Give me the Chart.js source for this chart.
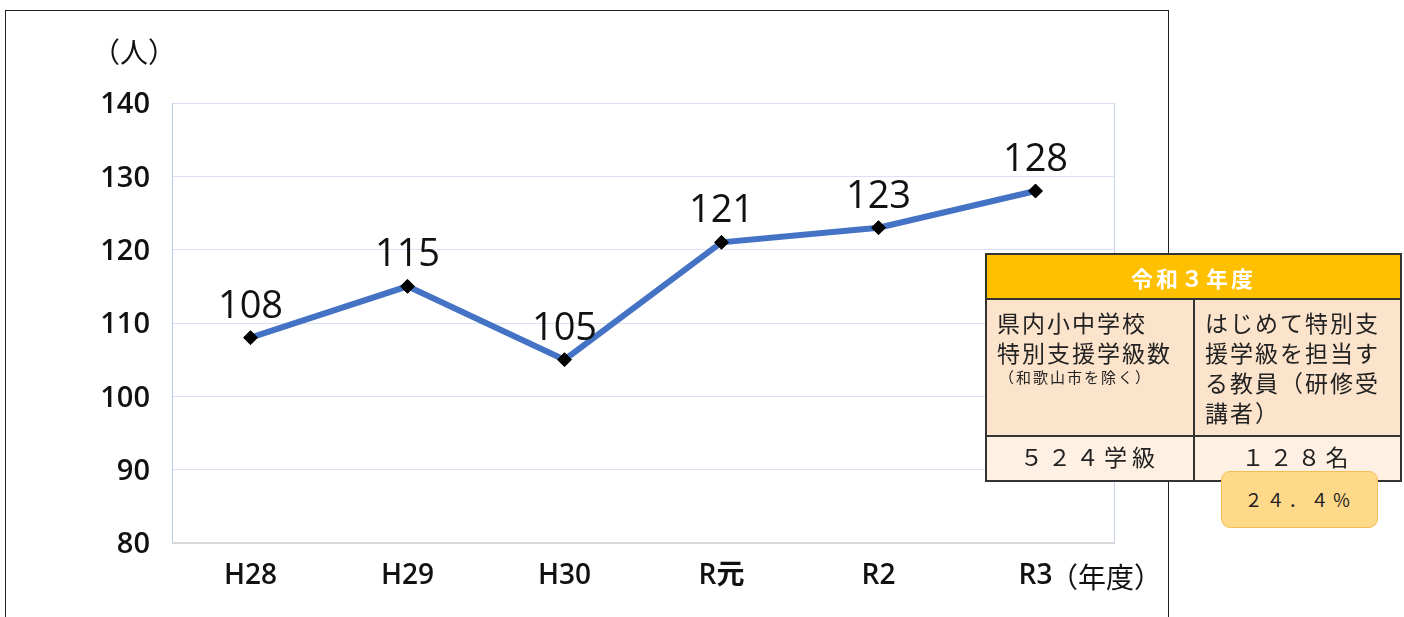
<!DOCTYPE html>
<html lang="ja">
<head>
<meta charset="utf-8">
<script src="https://cdn.jsdelivr.net/npm/chart.js@4"></script>
<style>
  html, body { margin: 0; padding: 0; background: #fff; }
  body { width: 1404px; height: 617px; position: relative; overflow: hidden; font-family: "Noto Sans CJK JP", sans-serif; }
  #frame { position: absolute; left: 5px; top: 10px; width: 1164px; height: 700px; border: 1px solid #222; box-sizing: border-box; }
  #chart { position: absolute; left: 0; top: 0; }
  .lbl { position: absolute; color: #111; font-size: 28px; line-height: 1; white-space: nowrap; }
  #info { position: absolute; left: 985px; top: 253px; width: 417px; border-collapse: collapse; table-layout: fixed; font-size: 23px; letter-spacing: 2px; color: #222; }
  #info td { border: 2px solid #333; padding: 0; }
  #info .head { background: #FFC000; color: #fff; font-weight: bold; font-size: 22px; letter-spacing: 3px; text-align: center; height: 43px; }
  #info .desc { background: #FCE4CC; vertical-align: top; line-height: 30px; padding: 7px 4px 0 10px; height: 128px; }
  #info .desc small { display: block; font-size: 15px; line-height: 20px; padding-left: 2px; letter-spacing: 2px; }
  #info .val { background: #FEF1E4; text-align: center; height: 43px; letter-spacing: 5px; line-height: 38px; vertical-align: top; }
  #badge { position: absolute; left: 1221px; top: 471px; width: 157px; height: 57px; box-sizing: border-box; border: 1px solid #F2BE55; border-radius: 9px; background: #FFD98A; font-size: 18px; color: #222; text-align: center; line-height: 55px; letter-spacing: 4px; }
</style>
</head>
<body>
<div id="frame"></div>
<canvas id="chart" width="1404" height="617"></canvas>
<div class="lbl" style="left:92px; top:37px;">（人）</div>
<div class="lbl" style="left:1050px; top:562px;">（年度）</div>
<table id="info">
  <col style="width:208px"><col>
  <tr><td class="head" colspan="2">令和３年度</td></tr>
  <tr>
    <td class="desc">県内小中学校<br>特別支援学級数<small>（和歌山市を除く）</small></td>
    <td class="desc">はじめて特別支援学級を担当する教員（研修受講者）</td>
  </tr>
  <tr><td class="val">５２４学級</td><td class="val">１２８名</td></tr>
</table>
<div id="badge">２４．４％</div>
<script>
const years = ['H28', 'H29', 'H30', 'R元', 'R2', 'R3'];
const teachers = [108, 115, 105, 121, 123, 128];
const yTicks = [80, 90, 100, 110, 120, 130, 140];

const FONT = '"Open Sans", "Noto Sans CJK JP", sans-serif';

// light right edge and grey base line of the plot area
const areaBox = {
  id: 'areaBox',
  beforeDatasetsDraw(chart) {
    const { ctx, chartArea: a } = chart;
    ctx.save();
    ctx.lineWidth = 1;
    ctx.strokeStyle = '#C5D3EC';
    ctx.beginPath();
    ctx.moveTo(a.right + 0.5, a.top);
    ctx.lineTo(a.right + 0.5, a.bottom);
    ctx.stroke();
    ctx.strokeStyle = '#D9D9D9';
    ctx.lineWidth = 2;
    ctx.beginPath();
    ctx.moveTo(a.left, a.bottom);
    ctx.lineTo(a.right + 1, a.bottom);
    ctx.stroke();
    ctx.restore();
  }
};

// value labels above each point
const valueLabels = {
  id: 'valueLabels',
  afterDatasetsDraw(chart) {
    const { ctx } = chart;
    const meta = chart.getDatasetMeta(0);
    ctx.save();
    ctx.font = '38px ' + FONT;
    ctx.fillStyle = '#111';
    ctx.textAlign = 'center';
    ctx.textBaseline = 'alphabetic';
    meta.data.forEach((pt, i) => {
      ctx.fillText(String(teachers[i]), pt.x, pt.y - 20);
    });
    ctx.restore();
  }
};

new Chart(document.getElementById('chart'), {
  type: 'line',
  data: {
    labels: years,
    datasets: [{
      data: teachers,
      borderColor: '#4472C4',
      borderWidth: 6,
      tension: 0,
      pointStyle: 'rectRot',
      pointRadius: 7,
      pointBackgroundColor: '#000',
      pointBorderColor: '#000',
      pointBorderWidth: 1
    }]
  },
  options: {
    responsive: false,
    animation: false,
    layout: { padding: { left: 0, top: 103, right: 290, bottom: 0 } },
    plugins: { legend: { display: false }, tooltip: { enabled: false } },
    scales: {
      x: {
        offset: true,
        grid: { display: false, drawTicks: false },
        border: { display: false },
        ticks: { color: '#111', font: { family: FONT, size: 28, weight: '600' }, padding: 16 },
        afterFit(scale) { scale.height = 74; }
      },
      y: {
        min: 80,
        max: 140,
        afterBuildTicks(scale) { scale.ticks = yTicks.map(v => ({ value: v })); },
        grid: { color: '#D9E1F2', lineWidth: 1, drawTicks: false },
        border: { display: true, color: '#B4C7E7', width: 1 },
        ticks: { color: '#111', font: { family: FONT, size: 29, weight: '600' }, padding: 22, labelOffset: 2 },
        afterFit(scale) { scale.width = 172; }
      }
    }
  },
  plugins: [areaBox, valueLabels]
});
</script>
</body>
</html>
